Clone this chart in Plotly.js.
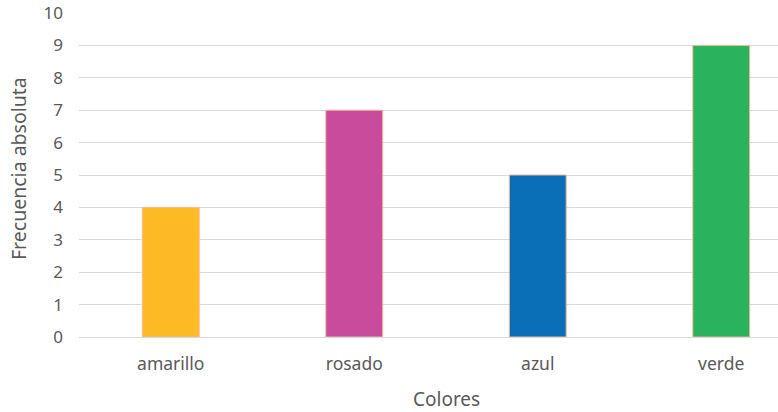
<!DOCTYPE html>
<html>
<head>
<meta charset="utf-8">
<script src="https://cdn.plot.ly/plotly-3.0.1.min.js"></script>
<style>
  html, body { margin: 0; padding: 0; background: #ffffff; overflow: hidden; }
  #chart { width: 778px; height: 412px; }
</style>
</head>
<body>
<div id="chart"></div>
<script>
// Frecuencia absoluta por color
const categorias = ['amarillo', 'rosado', 'azul', 'verde'];
const frecuencias = [4, 7, 5, 9];
const coloresBarra = ['#FDBA25', '#C84B9C', '#0B6FB7', '#2BB25D'];
const ticksY = [0, 1, 2, 3, 4, 5, 6, 7, 8, 9, 10];

const fuente = '"Noto Sans", "Open Sans", sans-serif';
const gris = '#595959';

const trace = {
  type: 'bar',
  x: categorias,
  y: frecuencias,
  width: 0.31,
  marker: {
    color: coloresBarra,
    line: { color: '#F5B99A', width: 1 }
  },
  hoverinfo: 'x+y'
};

// plot area starts at 79px; each category band is ~183.5px wide,
// so the visible range stops before the last band ends
const margenIzq = 79, ancho = 778, banda = 183.5;
const margenSup = 13, altoPlot = 324;
const limiteDer = -0.5 + (ancho - margenIzq) / banda;

const layout = {
  width: 778,
  height: 412,
  margin: { l: margenIzq, r: 0, t: margenSup, b: 412 - margenSup - altoPlot },
  paper_bgcolor: '#ffffff',
  plot_bgcolor: '#ffffff',
  showlegend: false,
  font: { family: fuente, color: gris, size: 16 },
  xaxis: {
    type: 'category',
    range: [-0.5, limiteDer],
    showgrid: false,
    showline: false,
    zeroline: false,
    ticks: '',
    ticklabelstandoff: 14,
    tickfont: { family: fuente, size: 17.5, color: gris },
    fixedrange: true
  },
  yaxis: {
    range: [0, 10],
    tickvals: ticksY,
    ticktext: ticksY.map(String),
    showgrid: true,
    gridcolor: '#D9D9D9',
    gridwidth: 1,
    zeroline: true,
    zerolinecolor: '#D9D9D9',
    zerolinewidth: 1,
    showline: false,
    ticks: '',
    ticklabelstandoff: 15,
    tickfont: { family: fuente, size: 17, color: gris },
    fixedrange: true
  },
  annotations: [
    {
      text: 'Colores',
      xref: 'paper', yref: 'paper',
      x: (446 - margenIzq) / (ancho - margenIzq),
      y: -(399 - (margenSup + altoPlot)) / altoPlot,
      xanchor: 'center', yanchor: 'middle',
      borderpad: 0,
      showarrow: false,
      font: { family: fuente, size: 19, color: gris }
    },
    {
      text: 'Frecuencia absoluta',
      textangle: -90,
      xref: 'paper', yref: 'paper',
      x: -(margenIzq - 18) / (ancho - margenIzq),
      y: (margenSup + altoPlot - 169) / altoPlot,
      xanchor: 'center', yanchor: 'middle',
      borderpad: 0,
      showarrow: false,
      font: { family: fuente, size: 19.5, color: gris }
    }
  ],
  bargap: 0.69
};

Plotly.newPlot('chart', [trace], layout, { displayModeBar: false, staticPlot: true });
</script>
</body>
</html>
